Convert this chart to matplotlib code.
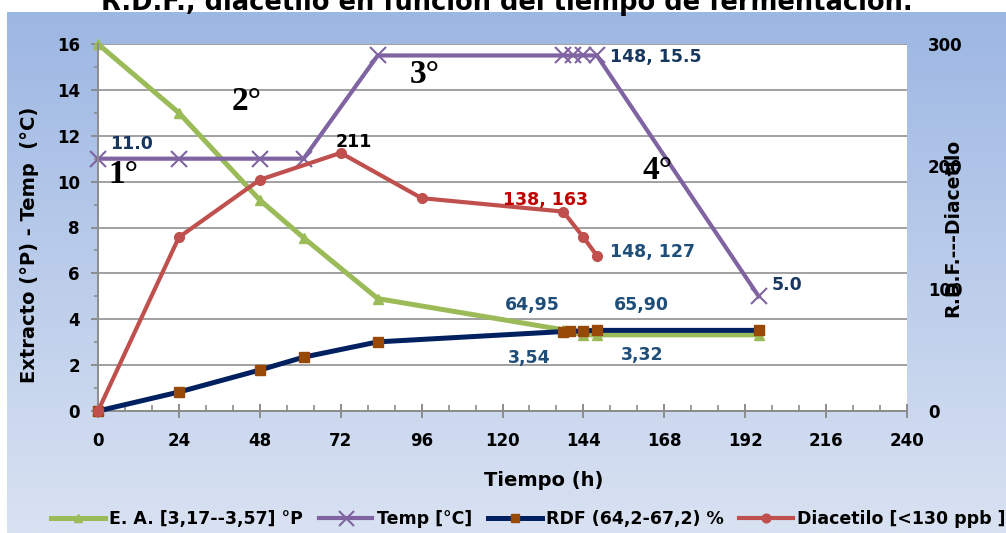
import matplotlib.pyplot as plt
import numpy as np

# Extracto aparente (°P)
t_ea = [0, 24, 48, 61, 83, 138, 144, 148, 196]
ea = [16.0, 13.0, 9.2, 7.55, 4.9, 3.54, 3.32, 3.32, 3.32]

# Temperatura (°C)
t_temp = [0, 24, 48, 61, 83, 138, 141, 144, 148, 196]
temp = [11.0, 11.0, 11.0, 11.0, 15.5, 15.5, 15.5, 15.5, 15.5, 5.0]

# R.D.F. (%)
t_rdf = [0, 24, 48, 61, 83, 138, 140, 144, 148, 196]
rdf = [0, 15.5, 33.5, 44.0, 56.5, 64.95, 65.2, 65.5, 65.90, 65.90]

# Diacetilo (ppb)
t_dia = [0, 24, 48, 72, 96, 138, 144, 148]
dia = [0, 142, 189, 211, 174, 163, 142, 127]

x_ticks = list(range(0, 241, 24))
left_ticks = list(range(0, 17, 2))
right_ticks = [0, 100, 200, 300]

GREEN = '#9BBB59'
PURPLE = '#8064A2'
NAVY = '#002060'
BROWN = '#984807'
RED = '#C0504D'
DARKBLUE = '#17375E'
STEEL = '#1F4E79'

plt.rcParams['font.family'] = 'DejaVu Sans'
plt.rcParams['font.weight'] = 'bold'

fig = plt.figure(figsize=(10.06, 5.33), dpi=100)

# fondo degradado azul
bg = fig.add_axes([7 / 1006, 0, 1 - 7 / 1006, 521 / 533])
top = np.array([0x9D, 0xB7, 0xE3]) / 255
bot = np.array([0xD9, 0xE2, 0xF2]) / 255
g = np.linspace(0, 1, 256)[:, None]
grad = top[None, :] * (1 - g) + bot[None, :] * g
bg.imshow(grad[:, None, :], aspect='auto', extent=[0, 1, 0, 1])
bg.axis('off')
bg.set_zorder(0)

ax = fig.add_axes([98 / 1006, 122 / 533, 809 / 1006, 367 / 533])
ax.set_zorder(1)
ax.set_facecolor('white')
ax2 = ax.twinx()
ax2.set_zorder(2)

l1, = ax.plot(t_ea, ea, color=GREEN, lw=3.6, marker='^', ms=7, clip_on=False,
              label='E. A. [3,17--3,57] °P')
l2, = ax.plot(t_temp, temp, color=PURPLE, lw=3, marker='x', ms=12, mew=1.5,
              clip_on=False, label='Temp [°C]')
l3, = ax2.plot(t_rdf, rdf, color=NAVY, lw=3.6, marker='s', ms=7, mfc=BROWN,
               mec=BROWN, clip_on=False, label='RDF (64,2-67,2) %')
l4, = ax2.plot(t_dia, dia, color=RED, lw=3, marker='o', ms=7, clip_on=False,
               label='Diacetilo [<130 ppb ]')

ax.set_xlim(0, 240)
ax.set_ylim(0, 16)
ax2.set_ylim(0, 300)

ax.set_xticks(x_ticks)
ax.set_xticks(range(0, 241, 8), minor=True)
ax.set_yticks(left_ticks)
ax.set_yticks(range(1, 16, 2), minor=True)
ax2.set_yticks(right_ticks)

ax.grid(axis='y', color='#A0A0A0', lw=1.4)
ax.set_axisbelow(True)

for s in ['top', 'right']:
    ax.spines[s].set_visible(False)
    ax2.spines[s].set_visible(False)
ax2.spines['left'].set_visible(False)
ax2.spines['bottom'].set_visible(False)
for s in ['left', 'bottom']:
    ax.spines[s].set_color('#8C8C8C')
    ax.spines[s].set_linewidth(1.4)

ax.tick_params(axis='x', which='major', direction='inout', length=10, width=1.4,
               color='#8C8C8C', pad=10, labelsize=12)
ax.tick_params(axis='x', which='minor', direction='in', length=4, width=1.2,
               color='#8C8C8C')
ax.tick_params(axis='y', which='major', direction='out', length=5, width=1.4,
               color='#8C8C8C', pad=8, labelsize=12)
ax.tick_params(axis='y', which='minor', direction='out', length=3, width=1.2,
               color='#8C8C8C')
ax2.tick_params(axis='y', length=0, pad=15, labelsize=12)

# etiquetas de valores
def label(axis, x, y, txt, dx, dy, color, ha='center'):
    axis.annotate(txt, (x, y), xytext=(dx, dy), textcoords='offset pixels',
                  ha=ha, va='center', color=color, fontsize=12.5,
                  fontweight='bold')

label(ax, t_temp[0], temp[0], f'{temp[0]:.1f}', 12, 15, DARKBLUE, ha='left')
label(ax, t_temp[8], temp[8], f'{t_temp[8]}, {temp[8]:.1f}', 13, -2, DARKBLUE, ha='left')
label(ax, t_temp[9], temp[9], f'{temp[9]:.1f}', 13, 11, DARKBLUE, ha='left')
label(ax2, t_dia[3], dia[3], f'{dia[3]}', 13, 11, 'black')
label(ax2, t_dia[5], dia[5], f'{t_dia[5]}, {dia[5]}', -18, 12, '#C00000')
label(ax2, t_dia[7], dia[7], f'{t_dia[7]}, {dia[7]}', 13, 4, STEEL, ha='left')
label(ax2, t_rdf[5], rdf[5], f'{rdf[5]:.2f}'.replace('.', ','), -31, 27, STEEL)
label(ax2, t_rdf[8], rdf[8], f'{rdf[8]:.2f}'.replace('.', ','), 44, 25, STEEL)
label(ax, t_ea[5], ea[5], f'{ea[5]:.2f}'.replace('.', ','), -34, -28, STEEL)
label(ax, t_ea[7], ea[7], f'{ea[7]:.2f}'.replace('.', ','), 45, -20, STEEL)

# fases de la fermentación
for txt, px, py in [('1°', 7.5, 10.3), ('2°', 44, 13.5), ('3°', 97, 14.65),
                    ('4°', 166, 10.5)]:
    ax.text(px, py, txt, family='Liberation Serif', fontsize=24,
            fontweight='bold', ha='center', va='center', color='black')

fig.text(0.5035, 1 - 10 / 533,
         'R.D.F., diacetilo en función del tiempo de fermentación.',
         ha='center', va='baseline', fontsize=18.5, fontweight='bold')
fig.text(30 / 1006, 1 - 245 / 533, 'Extracto (°P) - Temp  (°C)', rotation=90,
         ha='center', va='center', fontsize=14, fontweight='bold')
fig.text(953 / 1006, 1 - 228 / 533, 'R.D.F.---Diacetilo', rotation=90,
         ha='center', va='center', fontsize=13.5, fontweight='bold')
fig.text(544 / 1006, 1 - 481 / 533, 'Tiempo (h)', ha='center', va='center',
         fontsize=14, fontweight='bold')

fig.legend(handles=[l1, l2, l3, l4], loc='center left',
           bbox_to_anchor=(51 / 1006, 1 - 519 / 533), ncol=4, frameon=False,
           fontsize=12.5, handlelength=3.1, handletextpad=0.25,
           columnspacing=0.9, borderpad=0, borderaxespad=0, numpoints=1,
           markerscale=0.9)

fig.savefig('out.png', dpi=100)
